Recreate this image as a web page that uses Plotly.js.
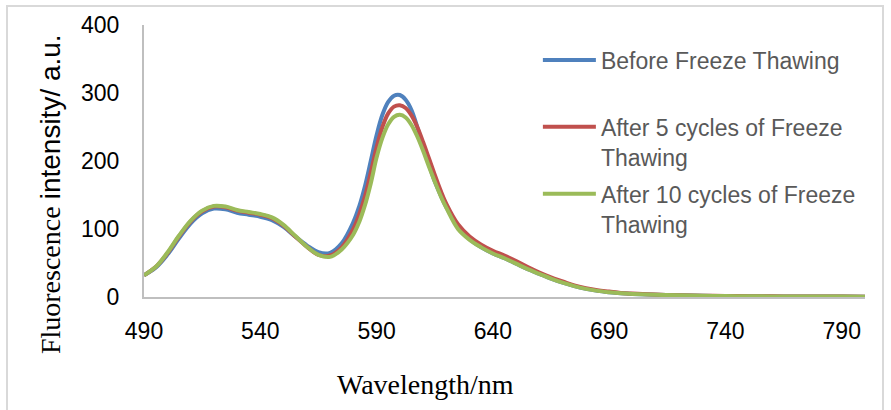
<!DOCTYPE html>
<html>
<head>
<meta charset="utf-8">
<script src="https://cdn.plot.ly/plotly-3.0.1.min.js"></script>
<style>
html,body{margin:0;padding:0;background:#fff;}
#wrap{position:relative;width:891px;height:410px;}
#chart{position:absolute;left:0;top:0;width:891px;height:410px;}
#frame{position:absolute;left:6px;top:5px;width:874px;height:420px;border:2px solid #d9d9d9;pointer-events:none;}
</style>
</head>
<body>
<div id="wrap"><div id="chart"></div><div id="frame"></div></div>
<script>
const wavelength = [490,495,500,505,510,515,520,525,530,535,540,545,550,555,560,565,570,575,580,582.5,585,587.5,590,592.5,595,597.5,600,602.5,605,607.5,610,612.5,615,617.5,620,625,630,635,640,645,650,655,660,665,670,675,680,685,690,695,700,710,720,730,740,750,760,770,780,790,800];
const beforeFT = [32,43,62,86,108,123,130,129,124,121,118,113,103,89,76,66,65,79,110,133,163,200,238,268,287,296,297,290,275,250,222,195,170,150,132,103,85,73,64,57,49,41,34,27,21,16,12,9,7,5.5,4.5,3.2,2.4,1.8,1.4,1.1,0.9,0.8,0.7,0.6,0.5];
const after5FT = [32,44,64,89,111,126,133,132,127,124,121,116,105,89,74,62,61,73,100,121,148,183,220,250,270,280,282,278,267,250,228,204,180,157,137,107,89,77,68,61,53,44,36,29,23,17,13,10,8,6,5,3.5,2.6,1.9,1.5,1.2,1.0,0.8,0.7,0.6,0.5];
const after10FT = [32,44,65,90,112,127,134,133,128,125,122,117,106,90,74,62,59,70,92,110,135,167,205,234,254,265,268,264,253,236,215,192,170,149,131,100,84,73,64,57,49,41,34,27,21,16,12,9,7,5.5,4.5,3.2,2.4,1.8,1.4,1.1,0.9,0.8,0.7,0.6,0.5];
const seriesNames = ["Before Freeze Thawing","After 5 cycles of Freeze<br>Thawing","After 10 cycles of Freeze<br>Thawing"];
const seriesColors = ["#4F81BD","#C0504D","#9BBB59"];
const xTicks = [490,540,590,640,690,740,790];
const yTicks = [0,100,200,300,400];
const xTitle = 'Wavelength/nm';
const yTitle = 'Fluorescence <span style="font-family:Liberation Sans, Arial, sans-serif;">intensity/ a.u.</span>';

const series = [beforeFT, after5FT, after10FT];
const traces = series.map((ys, i) => ({
  x: wavelength, y: ys, type: 'scatter', mode: 'lines',
  name: i === 0 ? seriesNames[i] + '<br> ' : seriesNames[i],
  legendgroup: 'g' + i,
  line: {color: seriesColors[i], width: 4, shape: 'spline', smoothing: 1}
}));

const serif = 'Liberation Serif, Times New Roman, serif';
const sans = 'Liberation Sans, Arial, sans-serif';

const layout = {
  width: 891, height: 410,
  margin: {l: 143.5, r: 26, t: 25, b: 113},
  paper_bgcolor: '#fff', plot_bgcolor: '#fff',
  font: {family: sans, size: 23, color: '#000'},
  showlegend: true,
  legend: {
    x: 0.5463, y: 0.95, xanchor: 'left', yanchor: 'top',
    font: {family: sans, size: 23, color: '#595959'},
    bgcolor: 'rgba(0,0,0,0)', borderwidth: 0,
    valign: 'top', tracegroupgap: 4, itemwidth: 53
  },
  xaxis: {
    range: [490, 800], tickvals: xTicks, ticktext: xTicks.map(String),
    showgrid: false, zeroline: false,
    showline: true, linecolor: '#bfbfbf', linewidth: 2,
    ticks: 'outside', ticklen: 12, tickcolor: 'rgba(0,0,0,0)',
    tickfont: {size: 23, color: '#000'}
  },
  yaxis: {
    range: [0, 400], tickvals: yTicks, ticktext: yTicks.map(String),
    showgrid: false, zeroline: false,
    showline: true, linecolor: '#bfbfbf', linewidth: 2,
    ticks: 'outside', ticklen: 18, tickcolor: 'rgba(0,0,0,0)',
    tickfont: {size: 23, color: '#000'}
  },
  annotations: [
    {text: xTitle, xref: 'paper', yref: 'paper', x: 0.390, y: -0.3235, xanchor: 'center', yanchor: 'middle',
     showarrow: false, font: {family: serif, size: 28, color: '#000'}},
    {text: yTitle, xref: 'paper', yref: 'paper', x: -0.1289, y: 0.3787, xanchor: 'center', yanchor: 'middle',
     textangle: -90, showarrow: false, font: {family: serif, size: 28, color: '#000'}}
  ]
};

Plotly.newPlot('chart', traces, layout, {displayModeBar: false, staticPlot: true});
</script>
</body>
</html>
